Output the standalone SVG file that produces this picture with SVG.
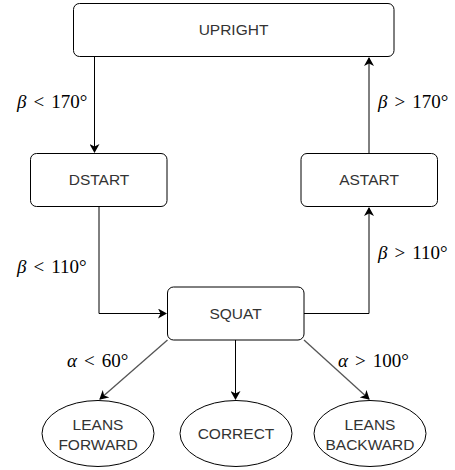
<svg xmlns="http://www.w3.org/2000/svg" width="455" height="470" viewBox="0 0 455 470">
<defs>
<style>
.n{fill:#fff;stroke:#000;stroke-width:1}
.t{font-family:"Liberation Sans",Arial,sans-serif;font-size:15.5px;fill:#333;text-anchor:middle}
.e{fill:none;stroke:#000;stroke-width:1}
.g{fill:none;stroke:#555;stroke-width:1.3}
.m{font-family:"Liberation Serif","Times New Roman",serif;font-size:19px;fill:#000}
.i{font-style:italic}
</style>
<marker id="a" markerWidth="10" markerHeight="10" refX="8" refY="5" orient="auto" markerUnits="userSpaceOnUse">
<path d="M0,0 L9,5 L0,10 L2.5,5 Z" fill="#000"/>
</marker>
</defs>
<rect width="455" height="470" fill="#fff"/>
<g id="connectors">
<path class="e" d="M94.5,57 V152" marker-end="url(#a)"/>
<path class="e" d="M369,153 V58" marker-end="url(#a)"/>
<path class="e" d="M99,207 V313.5 H166" marker-end="url(#a)"/>
<path class="e" d="M304,313.5 H369 V208" marker-end="url(#a)"/>
<path class="g" d="M167.5,340 L100,399" marker-end="url(#a)"/>
<path class="e" d="M235.5,340 V399" marker-end="url(#a)"/>
<path class="g" d="M304,340 L369,399" marker-end="url(#a)"/>
</g>
<g id="labels">
<text class="m" x="17" y="108"><tspan class="i">β</tspan><tspan dx="7">&lt;</tspan><tspan dx="7">170°</tspan></text>
<text class="m" x="378" y="108"><tspan class="i">β</tspan><tspan dx="7">&gt;</tspan><tspan dx="7">170°</tspan></text>
<text class="m" x="17" y="272.5"><tspan class="i">β</tspan><tspan dx="7">&lt;</tspan><tspan dx="7">110°</tspan></text>
<text class="m" x="378" y="259"><tspan class="i">β</tspan><tspan dx="7">&gt;</tspan><tspan dx="7">110°</tspan></text>
<text class="m" x="67" y="366.5"><tspan class="i">α</tspan><tspan dx="7">&lt;</tspan><tspan dx="7">60°</tspan></text>
<text class="m" x="338" y="366.5"><tspan class="i">α</tspan><tspan dx="7">&gt;</tspan><tspan dx="7">100°</tspan></text>
</g>
<g id="upright">
<rect class="n" x="73.5" y="3.5" width="320.5" height="53" rx="6"/>
<text class="t" x="233.5" y="35">UPRIGHT</text>
</g>
<g id="dstart">
<rect class="n" x="30.5" y="153.5" width="136.5" height="53" rx="6"/>
<text class="t" x="99" y="185">DSTART</text>
</g>
<g id="astart">
<rect class="n" x="301" y="153.5" width="136.5" height="53" rx="6"/>
<text class="t" x="369" y="185">ASTART</text>
</g>
<g id="squat">
<rect class="n" x="167.5" y="287" width="136.5" height="53" rx="6"/>
<text class="t" x="235.5" y="318.5">SQUAT</text>
</g>
<g id="leans-forward">
<ellipse class="n" cx="98" cy="433.5" rx="56" ry="33"/>
<text class="t" x="98" y="429.5">LEANS</text>
<text class="t" x="98" y="450">FORWARD</text>
</g>
<g id="correct">
<ellipse class="n" cx="236" cy="433.5" rx="56" ry="33"/>
<text class="t" x="236" y="438.5">CORRECT</text>
</g>
<g id="leans-backward">
<ellipse class="n" cx="370" cy="433.5" rx="56" ry="33"/>
<text class="t" x="370" y="429.5">LEANS</text>
<text class="t" x="370" y="450">BACKWARD</text>
</g>
</svg>
